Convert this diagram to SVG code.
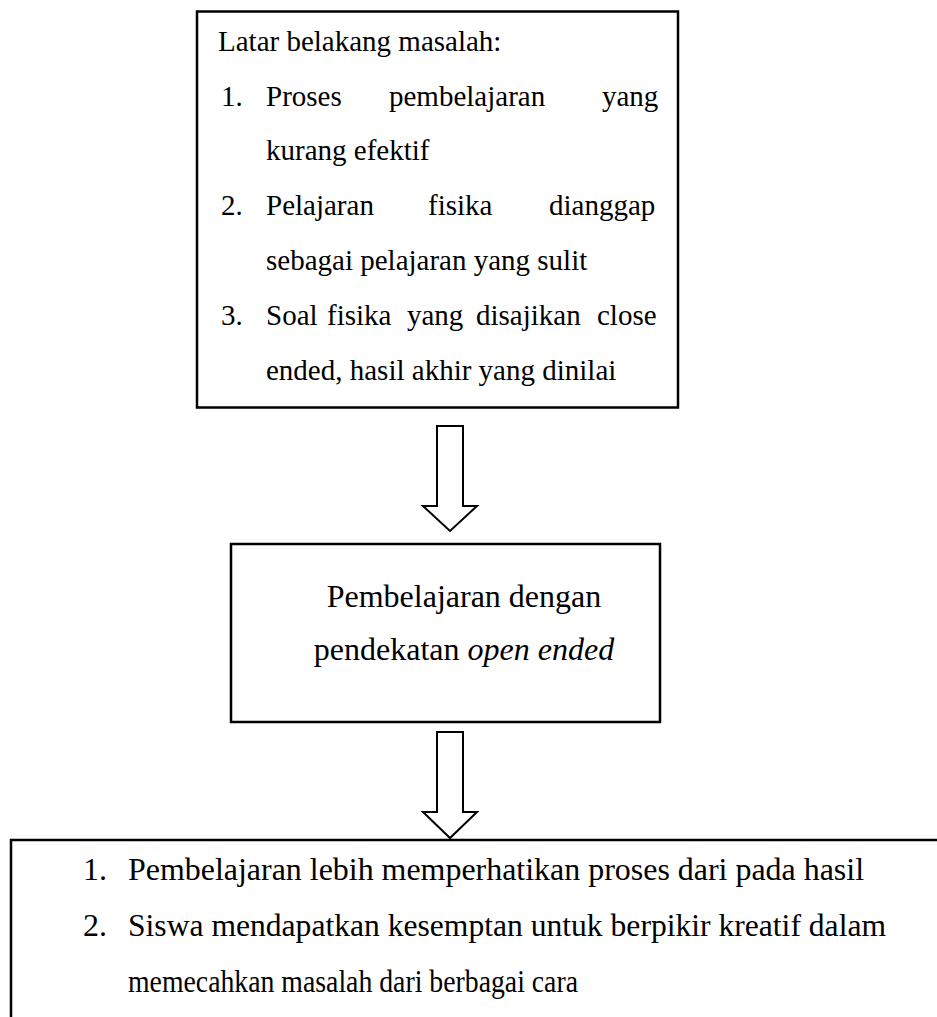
<svg xmlns="http://www.w3.org/2000/svg" width="937" height="1017" viewBox="0 0 937 1017">
  <style>
    .box { fill: #ffffff; stroke: #000000; stroke-width: 2.5; }
    .arrow { fill: #ffffff; stroke: #000000; stroke-width: 2; stroke-linejoin: miter; }
    .t29 { font-family: "Liberation Serif", "Times New Roman", serif; font-size: 29px; fill: #000000; }
    .t32 { font-family: "Liberation Serif", "Times New Roman", serif; font-size: 32px; fill: #000000; }
    .line { stroke: #000000; stroke-width: 2.5; fill: none; }
  </style>
  <rect width="937" height="1017" fill="#ffffff"/>

  <g id="node-latar-belakang">
    <rect class="box" x="197" y="11.5" width="481" height="396"/>
    <text class="t29" x="218" y="51">Latar belakang masalah:</text>
    <text class="t29" y="106"><tspan x="221">1.</tspan><tspan x="266">Proses</tspan><tspan x="389">pembelajaran</tspan><tspan x="602">yang</tspan></text>
    <text class="t29" x="266" y="160">kurang efektif</text>
    <text class="t29" y="215"><tspan x="221">2.</tspan><tspan x="266">Pelajaran</tspan><tspan x="428">fisika</tspan><tspan x="549">dianggap</tspan></text>
    <text class="t29" x="266" y="270">sebagai pelajaran yang sulit</text>
    <text class="t29" y="325"><tspan x="221">3.</tspan><tspan x="266">Soal</tspan><tspan x="327">fisika</tspan><tspan x="407">yang</tspan><tspan x="476">disajikan</tspan><tspan x="597">close</tspan></text>
    <text class="t29" x="266" y="380">ended, hasil akhir yang dinilai</text>
  </g>

  <g id="node-pendekatan">
    <rect class="box" x="231" y="544" width="429" height="178"/>
    <text class="t32" x="464" y="607" text-anchor="middle">Pembelajaran dengan</text>
    <text class="t32" x="464" y="660" text-anchor="middle">pendekatan <tspan font-style="italic">open ended</tspan></text>
  </g>

  <g id="node-hasil">
    <path class="line" d="M11 1017 V840 H937"/>
    <text class="t32" x="83" y="880">1.</text>
    <text class="t32" x="128" y="880" textLength="736" lengthAdjust="spacingAndGlyphs">Pembelajaran lebih memperhatikan proses dari pada hasil</text>
    <text class="t32" x="83" y="936">2.</text>
    <text class="t32" x="128" y="936" textLength="758" lengthAdjust="spacingAndGlyphs">Siswa mendapatkan kesemptan untuk berpikir kreatif dalam</text>
    <text class="t32" x="128" y="992" textLength="450" lengthAdjust="spacingAndGlyphs">memecahkan masalah dari berbagai cara</text>
  </g>

  <g id="connectors">
    <polygon class="arrow" points="437,426 463,426 463,506 477,506 450,531 423,506 437,506"/>
    <polygon class="arrow" points="437,732 463,732 463,812 477,812 450,838 423,812 437,812"/>
  </g>
</svg>
